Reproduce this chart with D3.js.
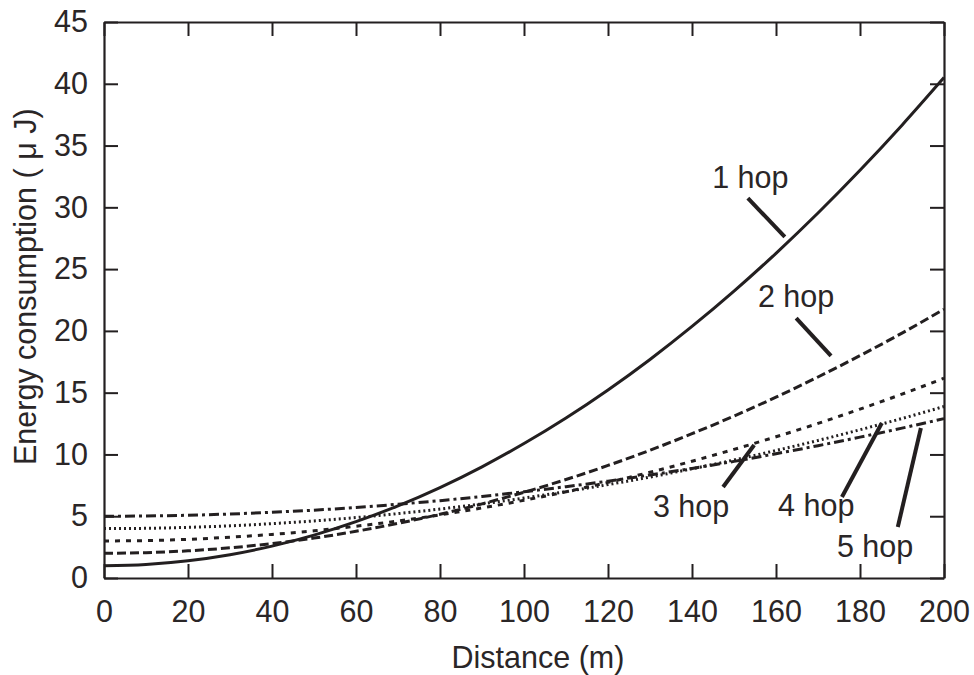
<!DOCTYPE html>
<html>
<head>
<meta charset="utf-8">
<script src="https://cdn.jsdelivr.net/npm/d3@7"></script>
<style>
  html, body { margin: 0; padding: 0; background: #fff; }
  svg text { font-family: "Liberation Sans", Arial, sans-serif; fill: #2a2627; }
</style>
</head>
<body>
<svg id="chart" width="974" height="675"></svg>
<script>
// ---- data ----
const distances = [0,10,20,30,40,50,60,70,80,90,100,110,120,130,140,150,160,170,180,190,200];
const hop1 = [1.00,1.10,1.40,1.89,2.58,3.47,4.56,5.84,7.32,9.00,10.88,12.95,15.22,17.69,20.36,23.22,26.28,29.54,33.00,36.65,40.50];
const hop2 = [2.00,2.05,2.20,2.44,2.79,3.23,3.78,4.42,5.16,6.00,6.94,7.97,9.11,10.34,11.68,13.11,14.64,16.27,18.00,19.82,21.75];
const hop3 = [3.00,3.03,3.13,3.30,3.53,3.82,4.19,4.61,5.11,5.67,6.29,6.98,7.74,8.56,9.45,10.41,11.43,12.51,13.67,14.88,16.17];
const hop4 = [4.00,4.02,4.10,4.22,4.40,4.62,4.89,5.21,5.58,6.00,6.47,6.99,7.56,8.17,8.84,9.55,10.32,11.13,12.00,12.91,13.88];
const hop5 = [5.00,5.02,5.08,5.18,5.32,5.49,5.71,5.97,6.26,6.60,6.98,7.39,7.84,8.34,8.87,9.44,10.06,10.71,11.40,12.13,12.90];
const seriesNames = ["1 hop","2 hop","3 hop","4 hop","5 hop"];
const xTicks = [0,20,40,60,80,100,120,140,160,180,200];
const yTicks = [0,5,10,15,20,25,30,35,40,45];
// label text anchor (data units) and leader line endpoints (data units)
const labelX = [144.8,155.7,130.7,160.5,174.5];
const labelY = [31.56,21.93,4.94,5.02,1.70];
const leaderX1 = [153.3,164.8,147.4,175.7,189.0];
const leaderY1 = [30.75,21.04,7.36,6.56,4.13];
const leaderX2 = [162.1,173.1,154.8,185.2,194.5];
const leaderY2 = [27.6,17.97,10.76,12.54,12.14];
const xTitle = "Distance (m)";
const yTitle = "Energy consumption ( μ J)";

// ---- styles ----
const dashes = [null, "9,4", "5,6", "2,3", "10,4,3,4"];
const margin = {left: 104, top: 22, right: 30, bottom: 97};
const W = 974, H = 675;
const iw = W - margin.left - margin.right, ih = H - margin.top - margin.bottom;
const ink = "#231f20";
const fs = 30.5;

const svg = d3.select("#chart");
const g = svg.append("g").attr("transform", `translate(${margin.left},${margin.top})`);

const x = d3.scaleLinear().domain([0,200]).range([0, iw]);
const y = d3.scaleLinear().domain([0,45]).range([ih, 0]);

function styleAxis(sel, labels) {
  sel.select(".domain").attr("stroke", ink).attr("stroke-width", 2.2);
  sel.selectAll(".tick line").attr("stroke", ink).attr("stroke-width", 2);
  sel.selectAll(".tick text").style("font-size", fs + "px").attr("fill", null)
     .style("display", labels ? null : "none");
}

g.append("g").attr("transform", `translate(0,${ih})`)
  .call(d3.axisBottom(x).tickValues(xTicks).tickSizeInner(-14).tickSizeOuter(0).tickPadding(22))
  .call(s => styleAxis(s, true));
g.append("g")
  .call(d3.axisTop(x).tickValues(xTicks).tickSizeInner(-14).tickSizeOuter(0).tickFormat(""))
  .call(s => styleAxis(s, false));
g.append("g")
  .call(d3.axisLeft(y).tickValues(yTicks).tickSizeInner(-14).tickSizeOuter(0).tickPadding(16))
  .call(s => styleAxis(s, true));
g.append("g").attr("transform", `translate(${iw},0)`)
  .call(d3.axisRight(y).tickValues(yTicks).tickSizeInner(-14).tickSizeOuter(0).tickFormat(""))
  .call(s => styleAxis(s, false));
g.selectAll("g").attr("font-family", null).attr("font-size", null);

// ---- curves ----
const allSeries = [hop1, hop2, hop3, hop4, hop5];
const line = d3.line().x(d => x(d[0])).y(d => y(d[1])).curve(d3.curveMonotoneX);
allSeries.forEach((vals, i) => {
  g.append("path")
    .datum(distances.map((d, j) => [d, vals[j]]))
    .attr("fill", "none")
    .attr("stroke", ink)
    .attr("stroke-width", 3)
    .attr("stroke-dasharray", dashes[i])
    .attr("d", line);
});

// ---- labels with leader lines ----
seriesNames.forEach((name, i) => {
  g.append("line")
    .attr("x1", x(leaderX1[i])).attr("y1", y(leaderY1[i]))
    .attr("x2", x(leaderX2[i])).attr("y2", y(leaderY2[i]))
    .attr("stroke", ink).attr("stroke-width", 4);
  g.append("text")
    .attr("x", x(labelX[i])).attr("y", y(labelY[i]))
    .style("font-size", fs + "px")
    .text(name);
});

// ---- axis titles ----
svg.append("text")
  .attr("x", 538).attr("y", 668)
  .attr("text-anchor", "middle")
  .style("font-size", fs + "px")
  .text(xTitle);
svg.append("text")
  .attr("transform", `translate(36,465) rotate(-90)`)
  .attr("text-anchor", "start")
  .style("font-size", fs + "px")
  .text(yTitle);
</script>
</body>
</html>
